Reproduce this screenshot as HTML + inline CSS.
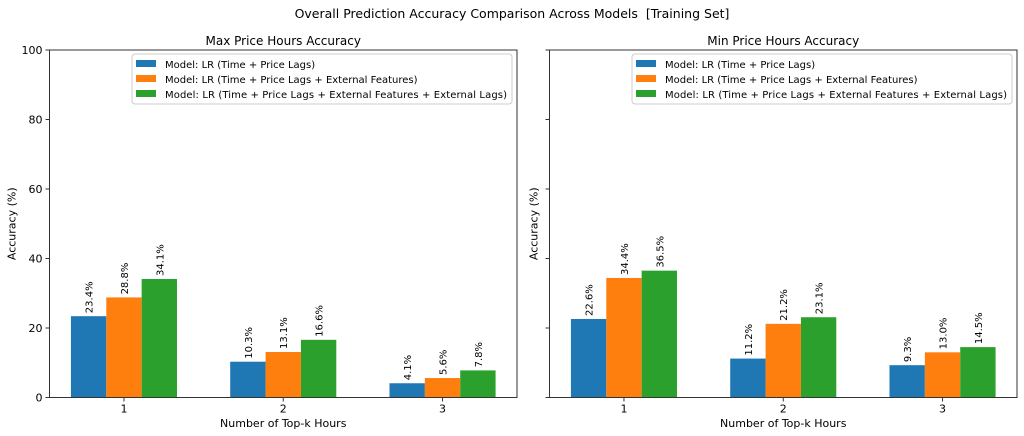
<!DOCTYPE html>
<html><head><meta charset="utf-8"><style>
body{margin:0;background:#fff}
svg{display:block;font-family:"DejaVu Sans","Liberation Sans",sans-serif}
</style></head><body>
<svg id="chart" width="1024" height="436" viewBox="0 0 1024 436">
<text x="512" y="18" font-size="12.5" text-anchor="middle" fill="#000" xml:space="preserve">Overall Prediction Accuracy Comparison Across Models  [Training Set]</text>
</svg>
<script>
const categories = [1, 2, 3];
const seriesNames = ["Model: LR (Time + Price Lags)", "Model: LR (Time + Price Lags + External Features)", "Model: LR (Time + Price Lags + External Features + External Lags)"];
const maxValues = [[23.4, 10.3, 4.1], [28.8, 13.1, 5.6], [34.1, 16.6, 7.8]];
const minValues = [[22.6, 11.2, 9.3], [34.4, 21.2, 13.0], [36.5, 23.1, 14.5]];
const yTicks = [0, 20, 40, 60, 80, 100];
const colors = ["#1f77b4", "#ff7f0e", "#2ca02c"];
const svg = document.getElementById('chart');
const NS = 'http://www.w3.org/2000/svg';
function mk(tag, attrs, parent) {
  const e = document.createElementNS(NS, tag);
  for (const k in attrs) e.setAttribute(k, attrs[k]);
  (parent || svg).appendChild(e);
  return e;
}
function panel(x0, x1, title, data, key, showYLabels) {
  const top = 50, bot = 397.5;
  const g = mk('g', {});
  
  
  const spacing = (x1 - x0) / 2.935;
  const xS = v => x0 + (v - 1 + 0.4675) * spacing;
  const yS = v => bot - v / 100 * (bot - top);
  const bw = 0.222;
  data.forEach((vals, s) => {
    vals.forEach((v, i) => {
      const cx = xS(categories[i] + (s - 1) * bw);
      const r = mk('rect', {x: cx - bw * spacing / 2, y: yS(v), width: bw * spacing, height: yS(0) - yS(v), fill: colors[s]}, g);
      
      
      const lx = cx + 4, ly = yS(v) - 3;
      const t = mk('text', {x: lx, y: ly, 'font-size': 10, transform: `rotate(-90 ${lx} ${ly})`, fill: '#000'}, g);
      t.textContent = v.toFixed(1) + '%';
      
      
    });
  });
  const f = mk('rect', {x: x0, y: top, width: x1 - x0, height: bot - top, fill: 'none', stroke: '#333', 'stroke-width': 1}, g);
  
  
  yTicks.forEach(v => {
    mk('line', {x1: x0 - 4, x2: x0, y1: yS(v), y2: yS(v), stroke: '#333'}, g);
    if (showYLabels) {
      const t = mk('text', {x: x0 - 7, y: yS(v) + 4, 'font-size': 11, 'text-anchor': 'end'}, g);
      t.textContent = v;
      
      
    }
  });
  categories.forEach(c => {
    mk('line', {x1: xS(c), x2: xS(c), y1: bot, y2: bot + 4, stroke: '#333'}, g);
    const t = mk('text', {x: xS(c), y: bot + 15, 'font-size': 11, 'text-anchor': 'middle'}, g);
    t.textContent = c;
    
    
  });
  const tt = mk('text', {x: (x0 + x1) / 2, y: 45, 'font-size': 12, 'text-anchor': 'middle'}, g);
  tt.textContent = title;
  
  
  const xl = mk('text', {x: (x0 + x1) / 2, y: 427, 'font-size': 11, 'text-anchor': 'middle'}, g);
  xl.textContent = 'Number of Top-k Hours';
  
  
  const yx = x0 - (showYLabels ? 34 : 12), yy = (top + bot) / 2;
  const yl = mk('text', {x: yx, y: yy, 'font-size': 11, 'text-anchor': 'middle', transform: `rotate(-90 ${yx} ${yy})`}, g);
  yl.textContent = 'Accuracy (%)';
  
  
  const lx = x1 - 385;
  const lg = mk('g', {}, g);
  
  
  mk('rect', {x: lx, y: 54, width: 380, height: 50, rx: 3, fill: '#fff', 'fill-opacity': 0.8, stroke: '#ccc'}, lg);
  seriesNames.forEach((n, s) => {
    const p = mk('rect', {x: lx + 4, y: 60 + s * 15, width: 20, height: 7, fill: colors[s]}, lg);
    
    
    const t = mk('text', {x: lx + 33, y: 68 + s * 15, 'font-size': 10, textLength: s === 2 ? 342 : null}, lg);
    if (s !== 2) t.removeAttribute('textLength');
    t.textContent = n;
    
    
  });
}
panel(49.5, 517, 'Max Price Hours Accuracy', maxValues, 'max', true);
panel(549.5, 1017, 'Min Price Hours Accuracy', minValues, 'min', false);
</script>
</body></html>
